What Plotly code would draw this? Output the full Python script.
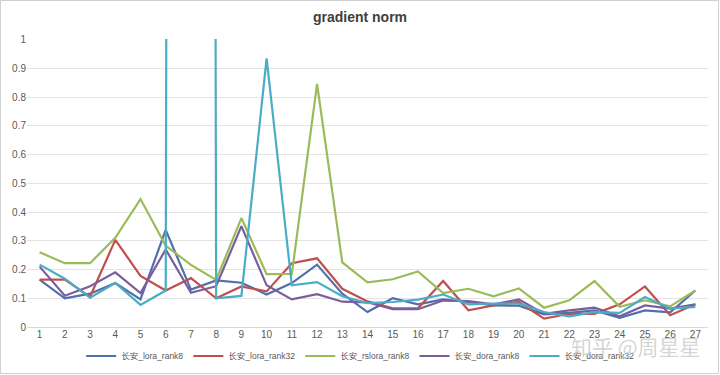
import plotly.graph_objects as go

steps = list(range(1, 28))

lora_rank8 = [0.165, 0.100, 0.116, 0.153, 0.096, 0.338, 0.130, 0.162, 0.154, 0.113,
              0.153, 0.217, 0.116, 0.052, 0.100, 0.079, 0.096, 0.087, 0.075, 0.074,
              0.044, 0.049, 0.058, 0.032, 0.058, 0.051, 0.127]
lora_rank32 = [0.165, 0.165, 0.105, 0.303, 0.178, 0.127, 0.170, 0.100, 0.141, 0.124,
               0.222, 0.239, 0.133, 0.089, 0.065, 0.065, 0.160, 0.058, 0.075, 0.087,
               0.029, 0.046, 0.046, 0.079, 0.141, 0.041, 0.079]
rslora_rank8 = [0.260, 0.222, 0.222, 0.310, 0.445, 0.283, 0.216, 0.164, 0.379, 0.184,
                0.185, 0.846, 0.225, 0.155, 0.166, 0.193, 0.118, 0.133, 0.107, 0.134,
                0.067, 0.093, 0.160, 0.070, 0.093, 0.072, 0.127]
dora_rank8 = [0.210, 0.109, 0.142, 0.190, 0.118, 0.270, 0.119, 0.142, 0.351, 0.145,
              0.096, 0.114, 0.088, 0.086, 0.062, 0.062, 0.092, 0.090, 0.079, 0.096,
              0.046, 0.058, 0.067, 0.037, 0.075, 0.064, 0.079]
dora_rank32 = [0.217, 0.168, 0.102, 0.153, 0.077, 0.127, 40.0, 0.100, 0.108, 0.935,
               0.145, 0.156, 0.107, 0.083, 0.087, 0.095, 0.113, 0.079, 0.081, 0.081,
               0.052, 0.037, 0.052, 0.049, 0.104, 0.064, 0.070]

series_names = ["长安_lora_rank8", "长安_lora_rank32", "长安_rslora_rank8",
                "长安_dora_rank8", "长安_dora_rank32"]
series_values = [lora_rank8, lora_rank32, rslora_rank8, dora_rank8, dora_rank32]
colors = ["#4F6FAE", "#C0504D", "#9BBB59", "#7A5E9C", "#4BACC6"]

y_ticks = [round(i * 0.1, 1) for i in range(11)]
y_labels = ["0", "0.1", "0.2", "0.3", "0.4", "0.5", "0.6", "0.7", "0.8", "0.9", "1"]

font_family = "Liberation Sans, Arial, Noto Sans CJK SC, sans-serif"

fig = go.Figure()
for name, vals, col in zip(series_names, series_values, colors):
    fig.add_trace(go.Scatter(x=steps, y=vals, mode="lines", name=name,
                             line=dict(color=col, width=2.2)))

W, H = 681, 288
L, T = 27, 39


def px_x(p):
    return (p - L) / W


def px_y(p):
    return (T + H - p) / H


fig.update_layout(
    width=720, height=375,
    margin=dict(l=L, r=720 - L - W, t=T, b=375 - T - H, autoexpand=False),
    paper_bgcolor="white", plot_bgcolor="white",
    font=dict(family=font_family, color="#595959", size=10),
    title=dict(text="<b>gradient norm</b>", x=0.5, xanchor="center",
               y=1 - 17 / 375, yanchor="middle",
               font=dict(size=14, color="#404040", family=font_family)),
    xaxis=dict(range=[0.5, 27.5], tickmode="array", tickvals=steps,
               ticktext=[str(s) for s in steps], showgrid=False, zeroline=False,
               showline=False, ticks="", tickfont=dict(size=10, color="#595959"),
               automargin=False, fixedrange=True),
    yaxis=dict(range=[0, 1.002], tickmode="array", tickvals=y_ticks, ticktext=y_labels,
               showgrid=True, gridcolor="#E4E4E4", gridwidth=1, zeroline=True,
               zerolinecolor="#D9D9D9", zerolinewidth=1, showline=False, ticks="",
               tickfont=dict(size=10, color="#595959"), automargin=False),
    legend=dict(orientation="h", x=0.49, xanchor="center", y=px_y(356), yanchor="middle",
                font=dict(size=8.5, color="#595959"), itemwidth=30,
                bgcolor="rgba(0,0,0,0)", tracegroupgap=0),
    showlegend=True,
    shapes=[dict(type="rect", xref="paper", yref="paper",
                 x0=px_x(0.5), x1=px_x(718.5), y0=px_y(0.5), y1=px_y(373.5),
                 line=dict(color="#D0D0D0", width=1), fillcolor="rgba(0,0,0,0)",
                 layer="below")],
    annotations=[dict(text="知乎 @周星星", xref="paper", yref="paper",
                      x=px_x(636), y=px_y(346), xanchor="center", yanchor="middle",
                      showarrow=False,
                      font=dict(size=21, color="rgba(195,195,195,0.7)",
                                family="Noto Sans CJK SC, sans-serif"))],
)

fig.write_html("out.html", post_script="document.body.style.margin='0';",
               config={"displayModeBar": False})
